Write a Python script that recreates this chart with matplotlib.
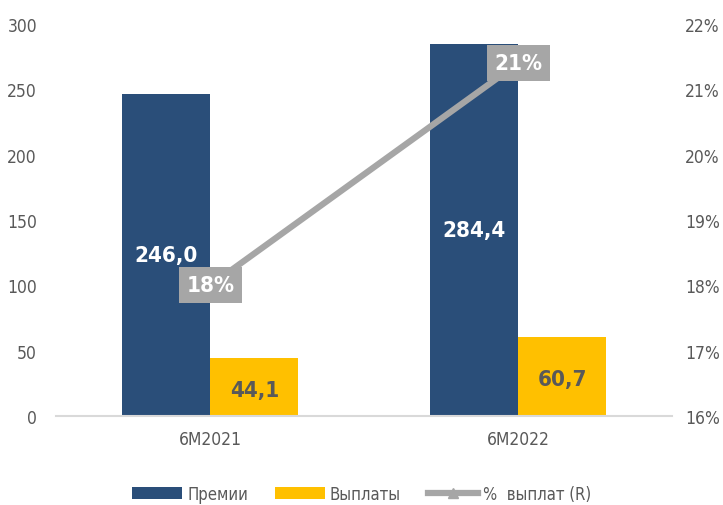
import numpy as np
import matplotlib as mpl
from matplotlib import pyplot as plt

plt.rcParams['font.family'] = ['DejaVu Sans']
plt.rcParams['font.stretch'] = 'condensed'

categories = ['6M2021', '6M2022']
premii = [246.0, 284.4]
vyplaty = [44.1, 60.7]
ratio = [18.0, 21.4]
ratio_labels = ['18%', '21%']
left_ticks = [0, 50, 100, 150, 200, 250, 300]
right_ticks = [16, 17, 18, 19, 20, 21, 22]

blue = '#2A4E79'
gold = '#FFC000'
grey = '#A6A6A6'
txt = '#595959'

fig = plt.figure(figsize=(7.23, 5.06), dpi=100)
ax = fig.add_axes([0.078, 0.176, 0.852, 0.775])
x = np.arange(len(categories))
w = 0.286

b1 = ax.bar(x - w / 2, premii, w, color=blue, label='Премии')
b2 = ax.bar(x + w / 2, vyplaty, w, color=gold, label='Выплаты')

for xi, v in zip(x, premii):
    ax.text(xi - w / 2, v / 2, f'{v:.1f}'.replace('.', ','), ha='center', va='center',
            color='white', fontsize=16, fontweight='bold')
for xi, v in zip(x, vyplaty):
    ax.text(xi + w / 2, v / 2 - 2, f'{v:.1f}'.replace('.', ','), ha='center', va='center',
            color=txt, fontsize=16, fontweight='bold')

ax.set_xlim(-0.5, 1.5)
ax.set_ylim(0, 300)
ax.set_yticks(left_ticks)
ax.set_xticks(x)
ax.set_xticklabels(categories)
for s in ['top', 'right', 'left']:
    ax.spines[s].set_visible(False)
ax.spines['bottom'].set_color('#D9D9D9')
ax.spines['bottom'].set_linewidth(1.5)
ax.tick_params(length=0, labelsize=12.5, labelcolor=txt)
ax.tick_params(axis='x', pad=10)
ax.tick_params(axis='y', pad=14)

ax2 = ax.twinx()
ln, = ax2.plot(x, ratio, color=grey, lw=4.5, marker='^', markersize=7, label='%  выплат (R)')
for xi, v, lab in zip(x, ratio, ratio_labels):
    ax2.text(xi, v, lab, ha='center', va='center', color='white', fontsize=16, fontweight='bold',
             bbox=dict(facecolor=grey, edgecolor='none', boxstyle='square,pad=0.35'))
ax2.set_ylim(16, 22)
ax2.set_yticks(right_ticks)
ax2.set_yticklabels([f'{t}%' for t in right_ticks])
for s in ['top', 'right', 'left', 'bottom']:
    ax2.spines[s].set_visible(False)
ax2.tick_params(length=0, labelsize=12.5, labelcolor=txt, pad=9)

fig.legend(handles=[b1, b2, ln], loc='lower center', bbox_to_anchor=(0.5, -0.025), ncol=3,
           frameon=False, fontsize=12, labelcolor=txt, handlelength=3.0, handleheight=0.7,
           columnspacing=1.6, handletextpad=0.3)

plt.savefig('out.png', dpi=100)
plt.close()
